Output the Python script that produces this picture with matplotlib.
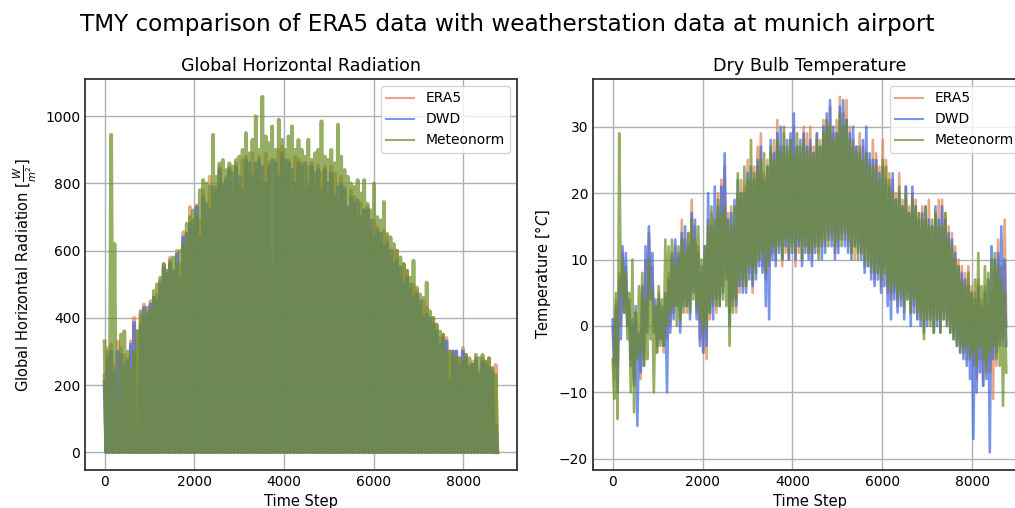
import numpy as np
import matplotlib
matplotlib.use("Agg")
import matplotlib.pyplot as plt

# series names and colours
series = ["ERA5", "DWD", "Meteonorm"]
colors = ["#dd8452", "royalblue", "olivedrab"]

# daily peak values of global horizontal radiation [W/m2], roughly every 3 days
era5_ghi = [230, 310, 320, 260, 330, 310, 290, 280, 330, 400, 360, 410, 440, 420, 450, 460, 470, 510, 560, 540,
            580, 520, 600, 560, 655, 610, 730, 660, 735, 690, 780, 700, 820, 760, 790, 850, 800, 820, 850, 780,
            860, 790, 870, 880, 820, 890, 840, 880, 800, 890, 860, 560, 870, 900, 910, 840, 870, 780, 880, 870,
            860, 780, 850, 860, 800, 855, 830, 850, 760, 850, 830, 740, 820, 790, 720, 780, 760, 700, 740, 720,
            730, 660, 690, 670, 620, 660, 640, 580, 600, 600, 520, 560, 540, 480, 500, 480, 430, 450, 430, 380,
            400, 380, 340, 350, 340, 300, 300, 300, 280, 310, 290, 260, 270, 280, 240, 280, 270, 280, 250, 260]
dwd_ghi = [210, 280, 300, 240, 300, 290, 260, 270, 320, 385, 60, 380, 430, 410, 440, 460, 450, 500, 550, 530,
           560, 540, 590, 520, 640, 650, 680, 690, 730, 640, 760, 740, 720, 790, 780, 840, 790, 810, 840, 830,
           850, 820, 780, 870, 860, 820, 860, 870, 850, 800, 850, 870, 860, 820, 890, 870, 860, 840, 800, 860,
           850, 860, 790, 850, 830, 840, 780, 840, 800, 830, 760, 790, 800, 780, 730, 760, 740, 750, 700, 720,
           720, 690, 640, 660, 650, 610, 620, 600, 560, 570, 550, 500, 520, 500, 460, 470, 450, 400, 410, 400,
           380, 360, 320, 340, 330, 210, 300, 300, 260, 300, 280, 250, 260, 270, 230, 270, 260, 250, 240, 80]
meteonorm_ghi = [330, 300, 945, 620, 120, 350, 360, 300, 250, 300, 360, 420, 400, 430, 420, 480, 500, 520, 560, 540,
                 570, 580, 560, 600, 620, 680, 700, 720, 700, 780, 810, 800, 790, 945, 820, 860, 870, 840, 860, 850,
                 870, 880, 900, 950, 890, 930, 1000, 900, 1058, 940, 920, 970, 900, 990, 930, 900, 940, 970, 900, 930,
                 900, 880, 930, 870, 890, 900, 985, 880, 870, 900, 860, 975, 880, 840, 820, 800, 790, 810, 770, 810,
                 740, 720, 800, 700, 690, 745, 650, 640, 620, 600, 580, 560, 540, 520, 570, 490, 470, 460, 505, 420,
                 400, 380, 360, 350, 300, 300, 290, 280, 280, 270, 290, 280, 260, 290, 280, 290, 270, 280, 250, 230]

# dry bulb temperature [°C]: alternating warm and cold readings, roughly every 3 days
era5_temp_high = [0, 4, 8, 11, 9, 3, 0, 2, -2, 5, 10, 14, 9, 3, 5, 2, 4, 8, 10, 12,
                  10, 16, 13, 14, 19, 15, 12, 8, 10, 16, 17, 14, 20, 22, 24, 17, 18, 15, 20, 22,
                  21, 25, 22, 24, 27, 29, 23, 25, 26, 28, 31, 27, 29, 26, 28, 30, 27, 26, 30, 29,
                  30, 27, 29, 28, 31, 30, 33, 29, 31, 34.5, 32, 34, 30, 28, 27, 29, 27, 26, 25, 28,
                  26, 24, 28, 25, 23, 22, 20, 23, 19, 21, 18, 20, 19, 17, 18, 16, 19, 15, 17, 19,
                  19, 17, 15, 14, 12, 10, 9, 8, 9, 6, 5, 7, 4, 6, 3, 5, 10, 13, 9, 16]
era5_temp_low = [-8, -6, 0, 3, 0, -5, -8, -4, -8, -5, 0, 5, 0, -4, -2, -4, -2, 0, 2, 3,
                 0, 4, 2, 3, 6, 2, -2, -4, -5, 1, 3, 2, 4, 6, 8, 2, 3, 2, 5, 7,
                 6, 8, 5, 8, 10, 9, 7, 9, 11, 10, 12, 9, 11, 10, 13, 9, 11, 10, 12, 11,
                 10, 12, 11, 13, 12, 14, 13, 11, 12, 14, 13, 12, 11, 10, 12, 11, 9, 10, 8, 7,
                 8, 6, 9, 5, 4, 5, 3, 4, 2, 5, 2, 3, 1, 2, 0, 1, 2, 0, 1, 0,
                 2, 1, 0, -1, -2, -4, -3, -5, -4, -6, -8, -5, -9, -6, -7, -11, -6, -2, -3, 0]
dwd_temp_high = [1, 3, 7, 12, 11, 4, 1, 3, -1, 6, 12, 15, 11, 4, 4, 3, 5, 7, 11, 13,
                 11, 14, 15, 12, 17, 16, 11, 9, 12, 20, 15, 21, 18, 21, 26, 16, 17, 19, 22, 20,
                 20, 23, 24, 22, 25, 27, 22, 24, 28, 26, 29, 30, 27, 28, 29, 32, 27, 28, 29, 27,
                 28, 26, 29, 27, 30, 32, 34, 30, 29, 33, 34, 31, 29, 30, 27, 26, 28, 30, 26, 25,
                 25, 23, 24, 22, 21, 23, 19, 20, 18, 21, 17, 21, 18, 16, 17, 18, 16, 15, 18, 16,
                 18, 16, 14, 13, 11, 9, 8, 7, 6, 5, 4, 6, 3, 5, 7, 12, 10, 11, 15, 10]
dwd_temp_low = [-6, -10, -2, 2, 0, -6, -9, -15, -7, -6, -1, 4, -1, -3, -2, -3, -10, -1, 1, 3,
                -1, 3, 3, 1, 5, 1, -3, -4, -3, 2, 1, 4, 3, 5, 7, 0, 4, 3, 6, 5,
                5, 7, 6, 7, 9, 8, 3, 1, 10, 9, 11, 10, 12, 10, 11, 10, 12, 9, 11, 10,
                9, 11, 12, 10, 11, 13, 12, 10, 11, 13, 12, 11, 10, 12, 11, 10, 8, 9, 7, 6,
                7, 5, 6, 3, 1, 4, 2, 3, 1, 4, 0, 2, 1, 0, -1, 0, 1, -1, 0, -1,
                1, 0, -1, -2, -3, -4, -5, -6, -8, -17, -10, -7, -9, -8, -19, -5, -4, -3, -2, -3]
meteonorm_temp_high = [-5, 5, 29, 10, 8, 5, 10, 2, 6, 8, 4, 10, 5, 3, 6, 4, 13, 12, 13, 9,
                       12, 13, 11, 14, 16, 13, 15, 10, 12, 15, 18, 16, 19, 17, 18, 16, 15, 18, 23, 20,
                       24, 22, 28, 23, 24, 25, 26, 24, 27, 25, 28, 26, 30, 27, 28, 26, 29, 27, 28, 26,
                       27, 26, 28, 27, 29, 31, 30, 28, 29, 32, 30, 31, 28, 27, 26, 27, 25, 26, 24, 24,
                       24, 22, 25, 24, 22, 20, 19, 21, 18, 20, 17, 19, 18, 17, 16, 18, 15, 16, 17, 15,
                       15, 17, 13, 12, 10, 9, 7, 6, 8, 5, 7, 11, 6, 9, 8, 10, 11, 9, 7, 5]
meteonorm_temp_low = [-11, -14, 5, 2, -2, -10, -13, -5, -4, -6, -5, -2, -10, -4, -3, -3, 0, 2, 3, 0,
                      1, 2, 3, 2, 4, 3, 1, -1, 0, 2, 4, 3, 3, 4, 3, -3, 2, 4, 7, 6,
                      6, 9, 7, 9, 10, 11, 8, 10, 12, 11, 12, 10, 13, 11, 12, 11, 13, 10, 12, 11,
                      11, 12, 10, 12, 13, 12, 14, 12, 13, 12, 14, 13, 11, 12, 10, 11, 10, 9, 9, 8,
                      8, 7, 8, 6, 5, 6, 4, 5, 3, 4, 2, 4, 2, 1, -2, 1, 0, -1, 1, -1,
                      1, 0, -1, -2, -3, -3, -4, -3, -5, -4, -6, -3, -5, -7, -4, -3, -5, -6, -12, -7]

n_hours = 8760

ghi_data = [era5_ghi, dwd_ghi, meteonorm_ghi]
temp_data = [(era5_temp_high, era5_temp_low),
             (dwd_temp_high, dwd_temp_low),
             (meteonorm_temp_high, meteonorm_temp_low)]

fig = plt.figure(figsize=(10.15, 5.08), dpi=100)
ax1 = fig.add_axes([0.0837, 0.0748, 0.4256, 0.7697])
ax2 = fig.add_axes([0.5842, 0.0748, 0.4266, 0.7697])

# radiation: daytime peak, then zero at night
for name, col, peaks in zip(series, colors, ghi_data):
    peaks = np.asarray(peaks, dtype=float)
    t = np.linspace(0, n_hours - 1, 2 * len(peaks))
    y = np.zeros(2 * len(peaks))
    y[0::2] = peaks
    ax1.plot(t, y, color=col, alpha=0.7, lw=2.7, label=name)

# temperature: warm / cold readings interleaved
for name, col, (hi, lo) in zip(series, colors, temp_data):
    t = np.linspace(0, n_hours - 1, 2 * len(hi))
    y = np.empty(2 * len(hi))
    y[0::2] = hi
    y[1::2] = lo
    ax2.plot(t, y, color=col, alpha=0.7, lw=1.9, label=name)

ax1.set_title("Global Horizontal Radiation", fontsize=12.6)
ax1.set_ylabel(r"Global Horizontal Radiation [$\frac{W}{m^2}$]", fontsize=10.5)
ax2.set_title("Dry Bulb Temperature", fontsize=12.6)
ax2.set_ylabel("Temperature [°$C$]", fontsize=10.5)

for ax in (ax1, ax2):
    ax.set_xlabel("Time Step", fontsize=10.5)
    ax.set_xticks([0, 2000, 4000, 6000, 8000])
    ax.grid(True, color="#b0b0b0", lw=1.0)
    ax.tick_params(length=0, labelsize=10)
    for sp in ax.spines.values():
        sp.set_color("0.2")
        sp.set_linewidth(1.3)
    leg = ax.legend(loc="upper right", fontsize=10)
    for line in leg.get_lines():
        line.set_linewidth(1.5)

ax1.set_yticks([0, 200, 400, 600, 800, 1000])
ax2.set_yticks([-20, -10, 0, 10, 20, 30])

fig.suptitle("TMY comparison of ERA5 data with weatherstation data at munich airport",
             fontsize=16.7, y=0.975)

fig.savefig("out.png", dpi=100)
